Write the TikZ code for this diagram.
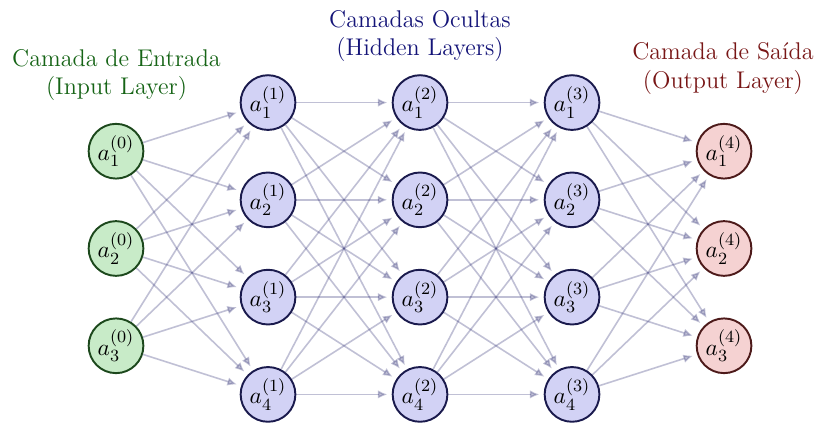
\documentclass[tikz,border=0pt]{standalone}
\usetikzlibrary{arrows.meta}

\definecolor{infill}{RGB}{200,235,200}
\definecolor{indraw}{RGB}{28,72,28}
\definecolor{hidfill}{RGB}{210,210,245}
\definecolor{hiddraw}{RGB}{26,26,77}
\definecolor{outfill}{RGB}{245,210,210}
\definecolor{outdraw}{RGB}{77,26,26}
\definecolor{intext}{RGB}{22,100,22}
\definecolor{hidtext}{RGB}{20,20,120}
\definecolor{outtext}{RGB}{120,22,22}
\definecolor{edgecol}{RGB}{30,30,105}

\tikzset{
  neuron/.style={circle, minimum size=0.9cm, inner sep=0pt, line width=0.9pt,
                 font=\fontsize{11.2}{13.4}\selectfont},
  inneuron/.style={neuron, fill=infill, draw=indraw},
  hidneuron/.style={neuron, fill=hidfill, draw=hiddraw},
  outneuron/.style={neuron, fill=outfill, draw=outdraw},
  layerlabel/.style={align=center, font=\fontsize{11.3}{13.3}\selectfont},
  conn/.style={draw=edgecol, opacity=0.28, line width=0.75pt,
               shorten >=2pt, -{Latex[length=4.5pt,width=4pt]}}
}

\begin{document}
\begin{tikzpicture}
\useasboundingbox (0,0) rectangle (13.47,-6.99);

% input layer
\foreach \i/\y in {1/2.487,2/4.087,3/5.687}
  \node[inneuron] (I\i) at (1.908,-\y) {$a_{\i}^{(0)}$};

% hidden layers
\foreach \l/\x in {1/4.408,2/6.908,3/9.408}
  \foreach \i/\y in {1/1.687,2/3.287,3/4.887,4/6.487}
    \node[hidneuron] (H\l\i) at (\x,-\y) {$a_{\i}^{(\l)}$};

% output layer
\foreach \i/\y in {1/2.487,2/4.087,3/5.687}
  \node[outneuron] (O\i) at (11.908,-\y) {$a_{\i}^{(4)}$};

% connections: input -> first hidden layer
\foreach \i in {1,2,3}
  \foreach \j in {1,2,3,4}
    \draw[conn] (I\i) -- (H1\j);

% connections between hidden layers
\foreach \i in {1,2,3,4}
  \foreach \j in {1,2,3,4} {
    \draw[conn] (H1\i) -- (H2\j);
    \draw[conn] (H2\i) -- (H3\j);
  }

% connections: last hidden layer -> output
\foreach \i in {1,2,3,4}
  \foreach \j in {1,2,3}
    \draw[conn] (H3\i) -- (O\j);

% layer titles
\node[layerlabel, text=intext] (lin) at (1.916,-1.234) {Camada de Entrada\\(Input Layer)};
\node[layerlabel, text=hidtext] (lhid) at (6.908,-0.592) {Camadas Ocultas\\(Hidden Layers)};
\node[layerlabel, text=outtext] (lout) at (11.89,-1.127) {Camada de Saída\\(Output Layer)};
\end{tikzpicture}
\end{document}
